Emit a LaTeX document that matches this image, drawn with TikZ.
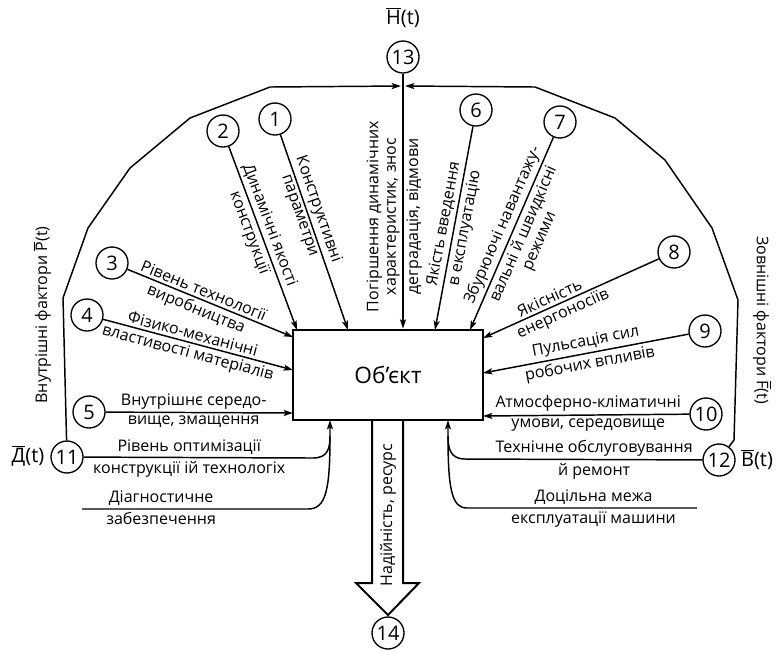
\documentclass[tikz,border=0pt]{standalone}
\usepackage{fontspec}
\setmainfont{Open Sans}
\usetikzlibrary{arrows.meta}
\newcommand\ovbar[1]{\ensuremath{\overline{\mbox{#1}}}}
\begin{document}
\begin{tikzpicture}[x=0.75pt,y=-0.75pt,
  ln/.style={line width=1.1pt},
  arr/.style={ln,-{Stealth[length=7pt,width=4.5pt,inset=1.5pt]}},
  num/.style={circle,draw,line width=1pt,minimum size=24pt,inner sep=0pt,font=\fontsize{15}{15}\selectfont},
  lab/.style={font=\fontsize{12}{13}\selectfont,inner sep=2pt,align=center},
  big/.style={font=\fontsize{15}{15}\selectfont,inner sep=0pt},
  side/.style={font=\fontsize{12}{13}\selectfont,inner sep=0pt},
]
\useasboundingbox (0,0) rectangle (780,651);

% central object
\node[draw,line width=2pt,minimum width=142.5pt,minimum height=67.5pt,
      font=\fontsize{17}{17}\selectfont] (obj) at (388,375) {Об’єкт};

% numbered factors
\node[num] (n1) at (275,119) {1};
\node[num] (n2) at (223,131) {2};
\node[num] (n3) at (112,263) {3};
\node[num] (n4) at (87,315) {4};
\node[num] (n5) at (89,412) {5};
\node[num] (n6) at (476,110) {6};
\node[num] (n7) at (560,122) {7};
\node[num] (n8) at (674,252) {8};
\node[num] (n9) at (705,331) {9};
\node[num] (n10) at (706,414) {10};
\node[num] (n11) at (67,457) {11};
\node[num] (n12) at (719,460) {12};
\node[num] (n13) at (403,57) {13};
\node[num] (n14) at (388,633) {14};

% outer labels
\node[big] (ht) at (403,18) {\ovbar{H}(t)};
\node[big] (dt) at (28,456) {\ovbar{Д}(t)};
\node[big] (bt) at (757,460) {\ovbar{B}(t)};
\node[side,rotate=90] (pin) at (42,315) {Внутрішні фактори \ovbar{P}(t)};
\node[side,rotate=-90] (fout) at (762,320) {Зовнішні фактори \ovbar{F}(t)};

% arrow ends on the object
\coordinate (t1) at (348,330);
\coordinate (t2) at (297,330);
\coordinate (t3) at (293,337);
\coordinate (t4) at (293,370);
\coordinate (t5) at (293,413);
\coordinate (t6) at (435,330);
\coordinate (t7) at (470,330);
\coordinate (t8) at (483,338);
\coordinate (t9) at (483,373);
\coordinate (t10) at (483,416);
\coordinate (t11) at (330,420);
\coordinate (t12) at (448,420);
\coordinate (jl) at (401,86);
\coordinate (jr) at (405,86);
\coordinate (dg) at (82,509);
\coordinate (dm) at (697,508);

% envelope of internal and external factors
\draw[arr] (n11) -- (63,298) -- (88,228) -- (130,168) -- (190,118) -- (270,87) -- (jl);
\draw[arr] (n12) -- (734,440) -- (738,300) -- (712,228) -- (665,160) -- (615,118) -- (535,87) -- (jr);

% top-level degradation input
\draw[arr] (n13) -- node[lab,rotate=90,anchor=south,pos=0.56]{Погіршення динамічних\\характеристик, знос}
                    node[lab,rotate=90,anchor=north,pos=0.56]{деградація, відмови} (n13 |- obj.north);

% internal factors
\draw[arr] (n1) -- node[lab,sloped,pos=0.4,above]{Конструктивні}
                   node[lab,sloped,pos=0.4,below]{параметри} (t1);
\draw[arr] (n2) -- node[lab,sloped,pos=0.45,above]{Динамічні якості}
                   node[lab,sloped,pos=0.45,below]{конструкції} (t2);
\draw[arr] (n3) -- node[lab,sloped,pos=0.44,above]{Рівень технології}
                   node[lab,sloped,pos=0.44,below]{виробництва} (t3);
\draw[arr] (n4) -- node[lab,sloped,pos=0.46,above]{Фізико-механічні}
                   node[lab,sloped,pos=0.46,below]{властивості матеріалів} (t4);
\draw[arr] (n5) -- node[lab,pos=0.47,above]{Внутрішнє середо-}
                   node[lab,pos=0.47,below]{вище, змащення} (t5);

% external factors
\draw[arr] (n6) -- node[lab,sloped,pos=0.49,above]{Якість введення}
                   node[lab,sloped,pos=0.49,below]{в експлуатацію} (t6);
\draw[arr] (n7) -- node[lab,sloped,pos=0.48,above]{Збурюючі навантажу-}
                   node[lab,sloped,pos=0.48,below]{вальні й швидкісні\\режими} (t7);
\draw[arr] (n8) -- node[lab,sloped,pos=0.6,above]{Якісність}
                   node[lab,sloped,pos=0.57,below]{енергоносіїв} (t8);
\draw[arr] (n9) -- node[lab,sloped,pos=0.49,above]{Пульсація сил}
                   node[lab,sloped,pos=0.49,below]{робочих впливів} (t9);
\draw[arr] (n10) -- node[lab,pos=0.49,above]{Атмосферно-кліматичні}
                    node[lab,pos=0.49,below]{умови, середовище} (t10);

% bottom-left inputs
\draw[arr] (n11) -- node[lab,pos=0.46,above]{Рівень оптимізації}
                    node[lab,pos=0.46,below]{конструкції ій технологіх} (313,458)
  .. controls (328,458) and (330,448) .. (330,436) -- (t11);
\draw[ln] (dg) -- node[lab,pos=0.35,above]{Діагностичне}
                  node[lab,pos=0.35,below]{забезпечення} (308,509)
  .. controls (326,509) and (330,490) .. (330,436);

% bottom-right inputs
\draw[arr] (n12) -- node[lab,pos=0.456,above]{Технічне обслуговування}
                    node[lab,pos=0.456,below]{й ремонт} (465,459)
  .. controls (450,459) and (448,448) .. (448,436) -- (t12);
\draw[ln] (dm) -- node[lab,pos=0.45,above]{Доцільна межа}
                  node[lab,pos=0.45,below]{експлуатації машини} (467,508)
  .. controls (452,508) and (448,490) .. (448,436);

% output: reliability and resource
\draw[line width=1.5pt,line join=miter] (372,421) -- (372,583) -- (356,583) -- (388,615)
  -- (419,583) -- (403,583) -- (403,421);
\node[lab,rotate=90] (rel) at (388,515) {Надійність, ресурс};
\end{tikzpicture}
\end{document}
